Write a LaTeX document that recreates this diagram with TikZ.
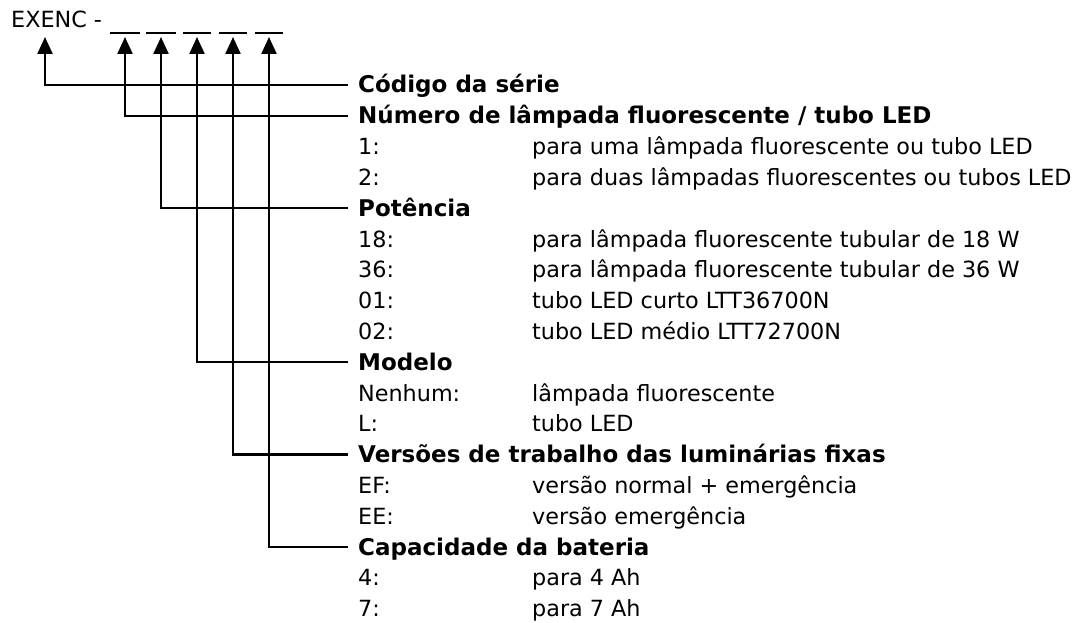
\documentclass[tikz,border=0pt]{standalone}
\usepackage{fontspec}
\setmainfont{DejaVu Sans}
\usetikzlibrary{arrows.meta}
\begin{document}
\begin{tikzpicture}[x=1pt,y=-1pt,
  conn/.style={line width=2.4pt},
  arr/.style={conn,-{Triangle[length=17pt,width=15pt]}},
  head/.style={anchor=base west,inner sep=0pt,font=\fontsize{23}{27}\selectfont\bfseries},
  item/.style={anchor=base west,inner sep=0pt,font=\fontsize{22.3}{26}\selectfont},
  under/.style={line width=1.8pt}]
\useasboundingbox (0,0) rectangle (1076,623);
\node[item] (title) at (11,28) {EXENC -};
% blanks and arrow tips
\foreach \a/\b/\n in {110/140/1,146/176/2,183/211/3,219/247/4,255/283/5}
  \draw[under] (\a,33) -- (\b,33);
\coordinate (t0) at (45,37);
\coordinate (t1) at (125,37);
\coordinate (t2) at (161,37);
\coordinate (t3) at (197,37);
\coordinate (t4) at (233,37);
\coordinate (t5) at (269,37);
% headings
\def\lx{358}
\def\vx{532}
\def\dy{8}
\newcommand{\rowy}[1]{85+30.8*#1}
\node[head] (h0) at (\lx,{\rowy{0}+\dy}) {Código da série};
\node[head] (h1) at (\lx,{\rowy{1}+\dy}) {Número de lâmpada fluorescente / tubo LED};
\node[item] (a1) at (\lx,{\rowy{2}+\dy}) {1:};
\node[item] (b1) at (\vx,{\rowy{2}+\dy}) {para uma lâmpada fluorescente ou tubo LED};
\node[item] (a2) at (\lx,{\rowy{3}+\dy}) {2:};
\node[item] (b2) at (\vx,{\rowy{3}+\dy}) {para duas lâmpadas fluorescentes ou tubos LED};
\node[head] (h2) at (\lx,{\rowy{4}+\dy}) {Potência};
\node[item] (a3) at (\lx,{\rowy{5}+\dy}) {18:};
\node[item] (b3) at (\vx,{\rowy{5}+\dy}) {para lâmpada fluorescente tubular de 18 W};
\node[item] (a4) at (\lx,{\rowy{6}+\dy}) {36:};
\node[item] (b4) at (\vx,{\rowy{6}+\dy}) {para lâmpada fluorescente tubular de 36 W};
\node[item] (a5) at (\lx,{\rowy{7}+\dy}) {01:};
\node[item] (b5) at (\vx,{\rowy{7}+\dy}) {tubo LED curto LTT36700N};
\node[item] (a6) at (\lx,{\rowy{8}+\dy}) {02:};
\node[item] (b6) at (\vx,{\rowy{8}+\dy}) {tubo LED médio LTT72700N};
\node[head] (h3) at (\lx,{\rowy{9}+\dy}) {Modelo};
\node[item] (a7) at (\lx,{\rowy{10}+\dy}) {Nenhum:};
\node[item] (b7) at (\vx,{\rowy{10}+\dy}) {lâmpada fluorescente};
\node[item] (a8) at (\lx,{\rowy{11}+\dy}) {L:};
\node[item] (b8) at (\vx,{\rowy{11}+\dy}) {tubo LED};
\node[head] (h4) at (\lx,{\rowy{12}+\dy}) {Versões de trabalho das luminárias fixas};
\node[item] (a9) at (\lx,{\rowy{13}+\dy}) {EF:};
\node[item] (b9) at (\vx,{\rowy{13}+\dy}) {versão normal + emergência};
\node[item] (a10) at (\lx,{\rowy{14}+\dy}) {EE:};
\node[item] (b10) at (\vx,{\rowy{14}+\dy}) {versão emergência};
\node[head] (h5) at (\lx,{\rowy{15}+\dy}) {Capacidade da bateria};
\node[item] (a11) at (\lx,{\rowy{16}+\dy}) {4:};
\node[item] (b11) at (\vx,{\rowy{16}+\dy}) {para 4 Ah};
\node[item] (a12) at (\lx,{\rowy{17}+\dy}) {7:};
\node[item] (b12) at (\vx,{\rowy{17}+\dy}) {para 7 Ah};
% connector start points
\foreach \i/\r in {0/0,1/1,2/4,3/9,4/12,5/15}
  \coordinate (c\i) at (348,{\rowy{\r}});
\foreach \i in {0,...,5}
  \draw[arr] (c\i) -| (t\i);
\end{tikzpicture}
\end{document}
